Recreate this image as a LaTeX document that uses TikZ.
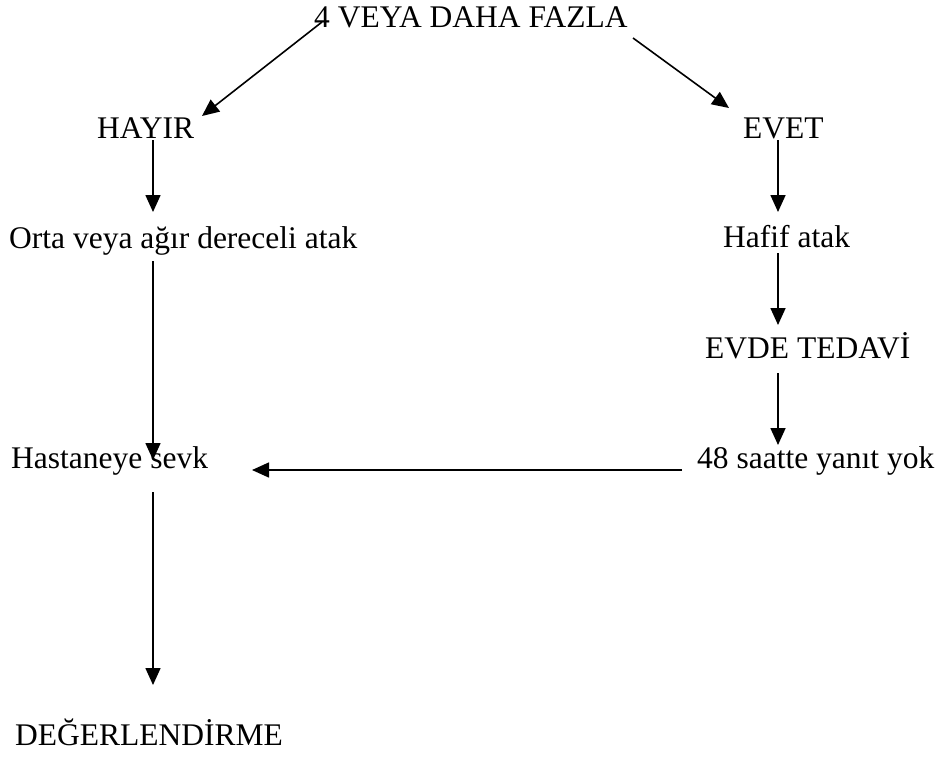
\documentclass[tikz,border=0pt]{standalone}
\usepackage{fontspec}
\setmainfont{Liberation Serif}
\usetikzlibrary{arrows.meta}
\begin{document}
\begin{tikzpicture}[x=1pt,y=-1pt,
  lbl/.style={inner sep=0pt,anchor=base west,font=\fontsize{31.5}{38}\selectfont},
  arr/.style={line width=1.6pt,-{Triangle[length=17pt,width=15pt]}}]
\useasboundingbox (0,0) rectangle (944,756);
\node[lbl] (top) at (314,27) {4 VEYA DAHA FAZLA};
\node[lbl] (hayir) at (97,138) {HAYIR};
\node[lbl] (evet) at (743,138) {EVET};
\node[lbl] (orta) at (9,248) {Orta veya ağır dereceli atak};
\node[lbl] (hafif) at (723,247) {Hafif atak};
\node[lbl] (evde) at (705,358) {EVDE TEDAVİ};
\node[lbl] (hast) at (11,468) {Hastaneye sevk};
\node[lbl] (yanit) at (697,468) {48 saatte yanıt yok};
\node[lbl] (deg) at (15,745) {DEĞERLENDİRME};
\coordinate (a1) at (322,22);  \coordinate (a2) at (202,116);
\coordinate (b1) at (633,38);  \coordinate (b2) at (729,108);
\coordinate (c1) at (153,140); \coordinate (c2) at (153,212);
\coordinate (d1) at (778,140); \coordinate (d2) at (778,212);
\coordinate (e1) at (153,261); \coordinate (e2) at (153,460);
\coordinate (f1) at (778,253); \coordinate (f2) at (778,325);
\coordinate (g1) at (778,373); \coordinate (g2) at (778,445);
\coordinate (h1) at (682,470); \coordinate (h2) at (252,470);
\coordinate (i1) at (153,492); \coordinate (i2) at (153,685);
\draw[arr] (a1) -- (a2);
\draw[arr] (b1) -- (b2);
\draw[arr] (c1) -- (c2);
\draw[arr] (d1) -- (d2);
\draw[arr] (e1) -- (e2);
\draw[arr] (f1) -- (f2);
\draw[arr] (g1) -- (g2);
\draw[arr] (h1) -- (h2);
\draw[arr] (i1) -- (i2);
\end{tikzpicture}
\end{document}
